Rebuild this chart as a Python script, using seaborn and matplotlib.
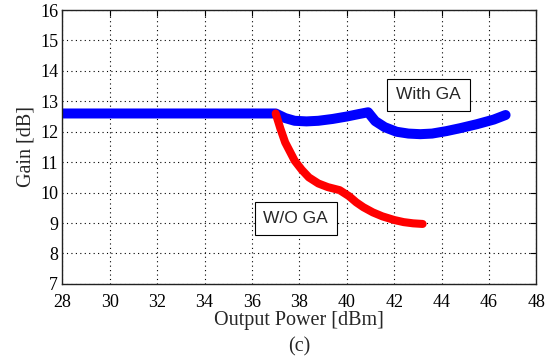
import matplotlib
matplotlib.use("Agg")
import matplotlib.pyplot as plt
import seaborn as sns
import pandas as pd

# Gain vs output power, with and without the GA-optimised design
with_ga_power = [28, 30, 32, 34, 36, 37.0, 37.4, 37.8, 38.3, 38.8, 39.4, 40.0, 40.5, 40.9,
                 41.2, 41.6, 42.1, 42.6, 43.1, 43.6, 44.2, 44.8, 45.5, 46.2, 46.7]
with_ga_gain = [12.6, 12.6, 12.6, 12.6, 12.6, 12.6, 12.45, 12.36, 12.34, 12.36, 12.42, 12.5, 12.58, 12.64,
                12.35, 12.15, 12.0, 11.94, 11.92, 11.94, 12.02, 12.12, 12.25, 12.4, 12.55]

wo_ga_power = [37.0, 37.2, 37.4, 37.6, 37.8, 38.1, 38.4, 38.8, 39.2, 39.7, 40.1, 40.4, 40.7, 41.1,
               41.5, 42.0, 42.4, 42.8, 43.2]
wo_ga_gain = [12.6, 12.1, 11.65, 11.35, 11.05, 10.75, 10.5, 10.3, 10.18, 10.08, 9.88, 9.68, 9.52, 9.35,
              9.22, 9.1, 9.03, 8.99, 8.97]

x_ticks = list(range(28, 49, 2))
y_ticks = list(range(7, 17))

with_ga = pd.DataFrame({"power": with_ga_power, "gain": with_ga_gain})
wo_ga = pd.DataFrame({"power": wo_ga_power, "gain": wo_ga_gain})

sns.set_style("white")
plt.rcParams["font.family"] = ["Liberation Serif", "DejaVu Serif"]

fig = plt.figure(figsize=(5.57, 3.58), dpi=100)
ax = fig.add_axes([0.112, 0.207, 0.851, 0.765])

sns.lineplot(data=with_ga, x="power", y="gain", ax=ax, color="#0000ff", linewidth=7.2,
             solid_capstyle="round", solid_joinstyle="round", sort=False)
sns.lineplot(data=wo_ga, x="power", y="gain", ax=ax, color="#ff0000", linewidth=5.8,
             solid_capstyle="round", solid_joinstyle="round", sort=False)

ax.set_xlim(28, 48)
ax.set_ylim(7, 16)
ax.set_xticks(x_ticks)
ax.set_yticks(y_ticks)
ax.grid(True, color="black", linestyle=(0, (1, 3)), linewidth=0.8)
ax.set_axisbelow(True)
for s in ax.spines.values():
    s.set_color("#222222")
    s.set_linewidth(1.0)
ax.tick_params(direction="in", length=4, width=0.8, top=True, right=True,
               labelsize=13, colors="black")
ax.tick_params(axis="x", pad=7)
ax.tick_params(axis="y", pad=3)

ax.set_xlabel("Output Power [dBm]", fontsize=14.5, labelpad=0)
ax.set_ylabel("Gain [dB]", fontsize=14.5, labelpad=3)

box = dict(boxstyle="square,pad=0.5", facecolor="white", edgecolor="black", linewidth=0.8)
ax.text(43.45, 13.21, "With GA", ha="center", va="center", fontsize=12.5,
        family=["Liberation Sans", "DejaVu Sans"], bbox=box)
ax.text(37.85, 9.15, "W/O GA", ha="center", va="center", fontsize=12.5,
        family=["Liberation Sans", "DejaVu Sans"], bbox=box)

fig.text(0.537, 0.005, "(c)", ha="center", va="bottom", fontsize=14.5)

fig.savefig("out.png", dpi=100)
